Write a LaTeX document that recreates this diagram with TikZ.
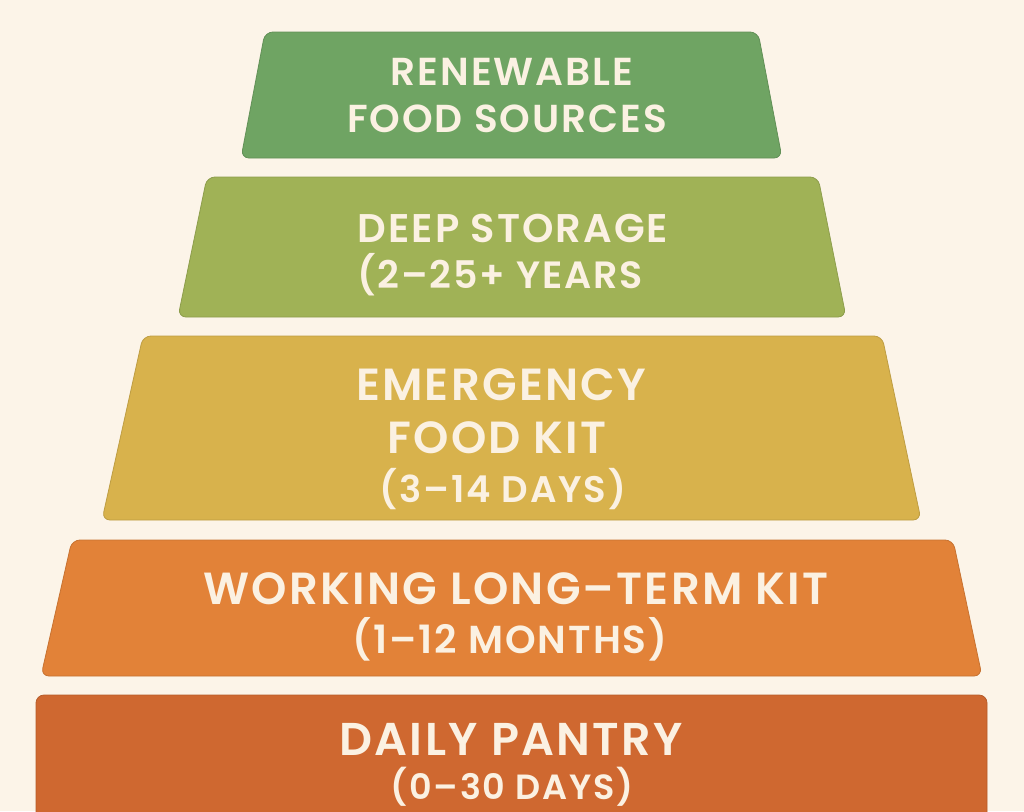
\documentclass[tikz,border=0pt]{standalone}
\usepackage{fontspec}
\setmainfont{Poppins}[BoldFont={Poppins SemiBold}, LetterSpace=5]
\definecolor{bg}{HTML}{FCF4E8}
\definecolor{txt}{HTML}{FBF1E2}
\definecolor{cA}{HTML}{6FA463}
\definecolor{cB}{HTML}{A0B256}
\definecolor{cC}{HTML}{D8B24C}
\definecolor{cD}{HTML}{E28238}
\definecolor{cE}{HTML}{CF6830}
\tikzset{
  layer/.style={fill=#1, draw=#1!88!black, line width=0.8pt, rounded corners=8pt},
  lbl/.style={text=txt, anchor=base, inner sep=0pt, font=\bfseries\fontsize{#1}{#1}\selectfont},
}
\begin{document}
\begin{tikzpicture}[x=1pt,y=-1pt]
\clip (0,0) rectangle (1024,811);
\fill[bg] (0,0) rectangle (1024,811);
% layers
\draw[layer=cA] (241,158) -- (265,32) -- (758,32) -- (782,158) -- cycle;
\draw[layer=cB] (178,317) -- (207,177) -- (818,177) -- (846,317) -- cycle;
\draw[layer=cC] (102,520) -- (143,336) -- (882,336) -- (921,520) -- cycle;
\draw[layer=cD] (41,676) -- (72,540) -- (953,540) -- (982,676) -- cycle;
\draw[layer=cE] (36,840) -- (36,695) -- (987,695) -- (987,840) -- cycle;
% labels
\node[lbl=39] (a1) at (512,85) {RENEWABLE};
\node[lbl=39] (a2) at (507,132) {FOOD SOURCES};
\node[lbl=40] (b1) at (513,242) {DEEP STORAGE};
\node[lbl=38] (b2) at (500,288) {(2–25+ YEARS};
\node[lbl=45] (c1) at (501,400) {EMERGENCY};
\node[lbl=45] (c2) at (497,453) {FOOD KIT};
\node[lbl=37] (c3) at (503,502) {(3–14 DAYS)};
\node[lbl=45] (d1) at (516,604) {WORKING LONG–TERM KIT};
\node[lbl=39] (d2) at (510,653) {(1–12 MONTHS)};
\node[lbl=46] (e1) at (511,755) {DAILY PANTRY};
\node[lbl=35] (e2) at (512,799) {(0–30 DAYS)};
\end{tikzpicture}
\end{document}
